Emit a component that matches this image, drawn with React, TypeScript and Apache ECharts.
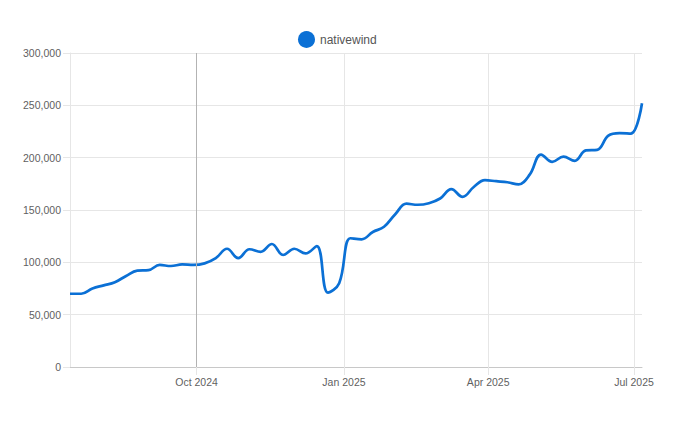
import React, { useEffect, useRef } from "react";
import * as echarts from "echarts";

const seriesName = "nativewind";

const weeks: string[] = [
  "2024-07-14", "2024-07-21", "2024-07-28", "2024-08-04", "2024-08-11", "2024-08-18", "2024-08-25",
  "2024-09-01", "2024-09-08", "2024-09-15", "2024-09-22", "2024-09-29", "2024-10-06", "2024-10-13",
  "2024-10-20", "2024-10-27", "2024-11-03", "2024-11-10", "2024-11-17", "2024-11-24", "2024-12-01",
  "2024-12-08", "2024-12-15", "2024-12-22", "2024-12-29", "2025-01-05", "2025-01-12", "2025-01-19",
  "2025-01-26", "2025-02-02", "2025-02-09", "2025-02-16", "2025-02-23", "2025-03-02", "2025-03-09",
  "2025-03-16", "2025-03-23", "2025-03-30", "2025-04-06", "2025-04-13", "2025-04-20", "2025-04-27",
  "2025-05-04", "2025-05-11", "2025-05-18", "2025-05-25", "2025-06-01", "2025-06-08", "2025-06-15",
  "2025-06-22", "2025-06-29", "2025-07-06",
];

const downloads: number[] = [
  70000, 70000, 75000, 78000, 81000, 87000, 92000,
  92500, 97500, 96500, 98000, 97500, 99000, 104000,
  113000, 104000, 112500, 110000, 117500, 107000, 113000,
  108500, 115500, 71000, 80000, 123000, 122000, 129000,
  134000, 146000, 156000, 155000, 156500, 161000, 170000,
  162500, 172000, 178500, 177500, 176500, 174500, 184000,
  203000, 196000, 201000, 197000, 207000, 207500, 221000,
  223500, 223000, 252000,
];

const xTickDates: string[] = ["2024-10-01", "2025-01-01", "2025-04-01", "2025-07-01"];
const highlightDate = "2024-10-01";
const monthNames = ["Jan", "Feb", "Mar", "Apr", "May", "Jun", "Jul", "Aug", "Sep", "Oct", "Nov", "Dec"];

const yMin = 0;
const yMax = 300000;
const yInterval = 50000;

const toTs = (d: string) => Date.parse(d + "T00:00:00Z");

export default function App() {
  const ref = useRef<HTMLDivElement>(null);

  useEffect(() => {
    if (!ref.current) return;
    document.body.style.margin = "0";
    const chart = echarts.init(ref.current, undefined, { renderer: "svg" });
    const data = weeks.map((w, i) => [toTs(w), downloads[i]]);
    const tickTs = xTickDates.map(toTs);
    const font = "'Liberation Sans', Arial, Helvetica, sans-serif";
    chart.setOption({
      animation: false,
      textStyle: { fontFamily: font },
      legend: {
        top: 31,
        left: 298,
        padding: 0,
        icon: "circle",
        itemWidth: 17,
        itemHeight: 17,
        textStyle: { color: "#555", fontSize: 12, fontFamily: font },
        data: [seriesName],
      },
      grid: { left: 70, right: 38, top: 53, bottom: 61, containLabel: false },
      xAxis: {
        type: "value",
        min: toTs(weeks[0]),
        max: toTs(weeks[weeks.length - 1]),
        axisLine: { show: true, lineStyle: { color: "#c8c8c8", width: 1 } },
        axisTick: { show: true, length: 8, customValues: tickTs, lineStyle: { color: "#e6e6e6" } },
        splitLine: { show: true, lineStyle: { color: "#e6e6e6", width: 1 } },
        axisLabel: {
          customValues: tickTs,
          color: "#5f5f5f",
          fontSize: 10.5,
          fontFamily: font,
          margin: 9,
          formatter: (v: number) => {
            const d = new Date(v);
            return monthNames[d.getUTCMonth()] + " " + d.getUTCFullYear();
          },
        },
      },
      yAxis: {
        type: "value",
        min: yMin,
        max: yMax,
        interval: yInterval,
        axisLine: { show: true, lineStyle: { color: "#e6e6e6" } },
        axisTick: { show: true, length: 7, lineStyle: { color: "#e6e6e6" } },
        splitLine: { show: true, lineStyle: { color: "#e6e6e6", width: 1 } },
        axisLabel: {
          color: "#5f5f5f",
          fontSize: 10.5,
          fontFamily: font,
          margin: 9,
          formatter: (v: number) => v.toLocaleString("en-US"),
        },
      },
      series: [
        {
          name: seriesName,
          type: "line",
          data,
          smooth: 0.4,
          showSymbol: false,
          symbol: "circle",
          itemStyle: { color: "#0b70d5" },
          lineStyle: { color: "#0b70d5", width: 2.7 },
          markLine: {
            silent: true,
            symbol: ["none", "none"],
            label: { show: false },
            lineStyle: { color: "#b3b3b3", width: 1, type: "solid" },
            data: [{ xAxis: toTs(highlightDate) }],
          },
        },
      ],
    });
    return () => chart.dispose();
  }, []);

  return <div ref={ref} style={{ width: 680, height: 428 }} />;
}
